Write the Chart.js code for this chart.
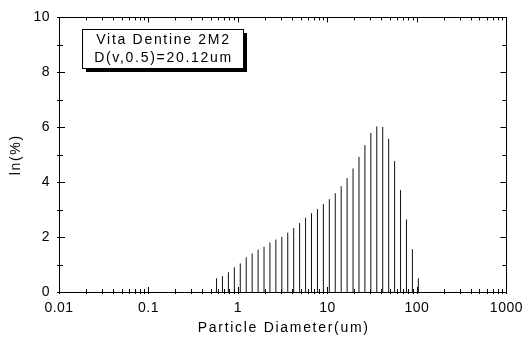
<!DOCTYPE html>
<html>
<head>
<meta charset="utf-8">
<script src="https://cdn.jsdelivr.net/npm/chart.js@4.4.1/dist/chart.umd.min.js"></script>
<style>
  html, body { margin: 0; padding: 0; background: #fff; }
  #wrap { width: 530px; height: 345px; }
</style>
</head>
<body>
<div id="wrap"><canvas id="psd" width="530" height="345"></canvas></div>
<script>
// Particle size bins (um) and volume % per bin
const diameters = [
  0.576, 0.671, 0.782, 0.911, 1.061, 1.236, 1.440, 1.678, 1.955, 2.277,
  2.653, 3.091, 3.601, 4.195, 4.887, 5.694, 6.633, 7.728, 9.003, 10.49,
  12.22, 14.24, 16.58, 19.32, 22.51, 26.22, 30.55, 35.59, 41.46, 48.31,
  56.28, 65.56, 76.38, 88.99, 103.7
];
const volumes = [
  0.50, 0.58, 0.72, 0.90, 1.04, 1.26, 1.40, 1.54, 1.65, 1.80,
  1.91, 2.01, 2.16, 2.33, 2.51, 2.70, 2.87, 3.02, 3.20, 3.38,
  3.60, 3.85, 4.15, 4.50, 4.92, 5.35, 5.79, 6.03, 6.01, 5.58,
  4.77, 3.71, 2.64, 1.56, 0.50
];
const xDecades = [0.01, 0.1, 1, 10, 100, 1000];
const yTicks = [0, 2, 4, 6, 8, 10];
const legendLines = ["Vita Dentine 2M2", "D(v,0.5)=20.12um"];

const FONT = "'Liberation Sans', Arial, sans-serif";

// each bin is a vertical stick from 0 up to its value
const sticks = [];
diameters.forEach((d, i) => {
  sticks.push({ x: d, y: 0 });
  sticks.push({ x: d, y: volumes[i] });
  sticks.push({ x: d, y: null });
});

// minor tick values for the log axis
const xMinor = [];
for (let i = 0; i < xDecades.length - 1; i++) {
  for (let k = 2; k <= 9; k++) xMinor.push(xDecades[i] * k);
}

const framePlugin = {
  id: "frame",
  beforeDraw(chart) {
    chart.ctx.letterSpacing = "0.5px";
  },
  afterDraw(chart) {
    const ctx = chart.ctx;
    const a = chart.chartArea;
    const xs = chart.scales.x, ys = chart.scales.y;
    ctx.save();
    ctx.strokeStyle = "#000";
    ctx.lineWidth = 1;
    ctx.strokeRect(Math.round(a.left) + 0.5, Math.round(a.top) + 0.5,
      Math.round(a.right - a.left), Math.round(a.bottom - a.top));

    ctx.beginPath();
    const tickX = (v, len) => {
      const px = Math.round(xs.getPixelForValue(v)) + 0.5;
      ctx.moveTo(px, a.bottom + 2); ctx.lineTo(px, a.bottom - len);
      ctx.moveTo(px, a.top); ctx.lineTo(px, a.top + len);
    };
    xDecades.forEach(v => tickX(v, 5));
    xMinor.forEach(v => tickX(v, 3));
    for (let v = 0; v <= 10; v++) {
      const py = Math.round(ys.getPixelForValue(v)) + 0.5;
      const len = v % 2 === 0 ? 6 : 4;
      ctx.moveTo(a.left - 2, py); ctx.lineTo(a.left + len, py);
      ctx.moveTo(a.right, py); ctx.lineTo(a.right - len, py);
    }
    ctx.stroke();

    // axis titles
    ctx.fillStyle = "#000";
    ctx.font = "14px " + FONT;
    ctx.letterSpacing = "1.7px";
    ctx.textAlign = "center";
    ctx.textBaseline = "middle";
    ctx.fillText("Particle Diameter(um)", (a.left + a.right) / 2 + 1, 328);
    ctx.save();
    ctx.translate(16, (a.top + a.bottom) / 2);
    ctx.rotate(-Math.PI / 2);
    ctx.fillText("ln(%)", 0, 0);
    ctx.restore();

    // legend box with drop shadow
    const bx = 82, by = 29, bw = 161, bh = 39;
    ctx.fillStyle = "#000";
    ctx.fillRect(bx + 4, by + 4, bw, bh);
    ctx.fillStyle = "#fff";
    ctx.fillRect(bx, by, bw, bh);
    ctx.strokeRect(bx + 0.5, by + 0.5, bw, bh);
    ctx.fillStyle = "#000";
    ctx.fillText(legendLines[0], bx + bw / 2 + 1, by + 11);
    ctx.fillText(legendLines[1], bx + bw / 2 + 1, by + 29);
    ctx.restore();
  }
};

const ctx = document.getElementById("psd").getContext("2d");
const psdChart = new Chart(ctx, {
  type: "line",
  data: {
    datasets: [{
      data: sticks,
      borderColor: "#111",
      borderWidth: 1,
      pointRadius: 0,
      spanGaps: false,
      tension: 0
    }]
  },
  options: {
    responsive: false,
    animation: false,
    events: [],
    layout: { padding: { top: 14, right: 19, left: 0, bottom: 0 } },
    plugins: { legend: { display: false }, tooltip: { enabled: false } },
    scales: {
      x: {
        type: "logarithmic",
        min: 0.01,
        max: 1000,
        afterBuildTicks: s => { s.ticks = xDecades.map(v => ({ value: v })); },
        afterFit: s => { s.height = 53; },
        grid: { display: false, drawTicks: false },
        border: { display: false },
        ticks: {
          padding: 8,
          maxRotation: 0,
          autoSkip: false,
          color: "#000",
          font: { family: FONT, size: 14 },
          callback: v => String(v)
        }
      },
      y: {
        type: "linear",
        min: 0,
        max: 10,
        afterBuildTicks: s => { s.ticks = yTicks.map(v => ({ value: v })); },
        afterFit: s => { s.width = 59; },
        grid: { display: false, drawTicks: false },
        border: { display: false },
        ticks: {
          padding: 9,
          color: "#000",
          font: { family: FONT, size: 14 }
        }
      }
    }
  },
  plugins: [framePlugin]
});
</script>
</body>
</html>
